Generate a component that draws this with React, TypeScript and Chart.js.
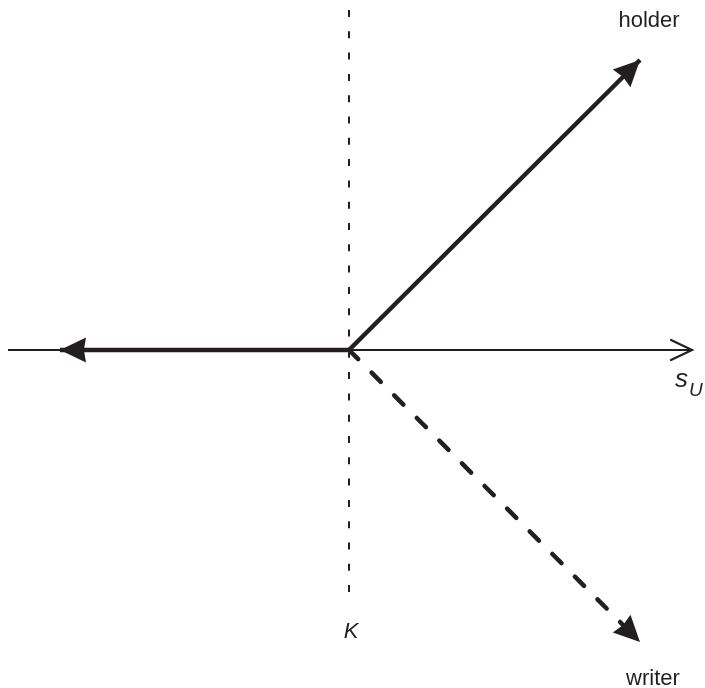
import React, { useEffect, useRef } from "react";
import { Chart, registerables } from "chart.js";

Chart.register(...registerables);

// Strike K is placed at x = 0; payoff on y (0 = zero payoff)
const axisPoints = [{ x: -341, y: 0 }, { x: 343, y: 0 }];
const flatPoints = [{ x: 0, y: 0 }, { x: -289, y: 0 }];
const holderPoints = [{ x: 0, y: 0 }, { x: 291, y: 290 }];
const writerPoints = [{ x: 0, y: 0 }, { x: 291, y: -292 }];
const strikePoints = [{ x: 0, y: 340 }, { x: 0, y: -248 }];

const INK = "#231f20";

type Lbl = { x: number; y: number; text: string; font: string; align: CanvasTextAlign };
const labels: Lbl[] = [
  { x: 300, y: 323, text: "holder", font: "22px 'Liberation Sans', Arial, sans-serif", align: "center" },
  { x: 304, y: -335, text: "writer", font: "22px 'Liberation Sans', Arial, sans-serif", align: "center" },
  { x: 2, y: -288, text: "K", font: "italic 22px 'Liberation Sans', Arial, sans-serif", align: "center" },
  { x: 326, y: -37, text: "s", font: "italic 26px 'Liberation Sans', Arial, sans-serif", align: "left" },
  { x: 340, y: -46, text: "U", font: "italic 19px 'Liberation Sans', Arial, sans-serif", align: "left" },
];

const arrowPlugin = {
  id: "arrows",
  afterDatasetsDraw(chart: any) {
    const ctx = chart.ctx as CanvasRenderingContext2D;
    chart.data.datasets.forEach((ds: any, i: number) => {
      if (!ds.arrow) return;
      const meta = chart.getDatasetMeta(i);
      const pts = meta.data;
      const a = pts[pts.length - 2];
      const b = pts[pts.length - 1];
      const dx = b.x - a.x;
      const dy = b.y - a.y;
      const len = Math.hypot(dx, dy);
      const ux = dx / len;
      const uy = dy / len;
      const px = -uy;
      const py = ux;
      ctx.save();
      ctx.fillStyle = INK;
      ctx.strokeStyle = INK;
      if (ds.arrow === "filled") {
        const L = 26;
        const W = 12.5;
        ctx.beginPath();
        ctx.moveTo(b.x, b.y);
        ctx.lineTo(b.x - ux * L + px * W, b.y - uy * L + py * W);
        ctx.lineTo(b.x - ux * L * 0.92, b.y - uy * L * 0.92);
        ctx.lineTo(b.x - ux * L - px * W, b.y - uy * L - py * W);
        ctx.closePath();
        ctx.fill();
      } else {
        const L = 21;
        const W = 10;
        ctx.lineWidth = 2.2;
        ctx.lineCap = "round";
        ctx.lineJoin = "miter";
        ctx.beginPath();
        ctx.moveTo(b.x - ux * L + px * W, b.y - uy * L + py * W);
        ctx.lineTo(b.x, b.y);
        ctx.lineTo(b.x - ux * L - px * W, b.y - uy * L - py * W);
        ctx.stroke();
      }
      ctx.restore();
    });
  },
  afterDraw(chart: any) {
    const ctx = chart.ctx as CanvasRenderingContext2D;
    const xs = chart.scales.x;
    const ys = chart.scales.y;
    ctx.save();
    ctx.fillStyle = INK;
    ctx.textBaseline = "alphabetic";
    labels.forEach((l) => {
      ctx.font = l.font;
      ctx.textAlign = l.align;
      ctx.fillText(l.text, xs.getPixelForValue(l.x), ys.getPixelForValue(l.y));
    });
    ctx.restore();
  },
};

export default function App() {
  const ref = useRef<HTMLCanvasElement | null>(null);
  useEffect(() => {
    document.body.style.margin = "0";
    const canvas = ref.current!;
    const chart = new Chart(canvas, {
      type: "scatter",
      data: {
        datasets: [
          {
            data: axisPoints,
            showLine: true,
            borderColor: INK,
            borderWidth: 2.2,
            pointRadius: 0,
            arrow: "open",
          } as any,
          {
            data: strikePoints,
            showLine: true,
            borderColor: INK,
            borderWidth: 2,
            borderDash: [7, 14.3],
            pointRadius: 0,
          } as any,
          {
            data: flatPoints,
            showLine: true,
            borderColor: INK,
            borderWidth: 4.5,
            pointRadius: 0,
            arrow: "filled",
          } as any,
          {
            data: holderPoints,
            showLine: true,
            borderColor: INK,
            borderWidth: 4.5,
            pointRadius: 0,
            arrow: "filled",
          } as any,
          {
            data: writerPoints,
            showLine: true,
            borderColor: INK,
            borderWidth: 4.5,
            borderDash: [13, 19],
            borderCapStyle: "round",
            pointRadius: 0,
            arrow: "filled",
          } as any,
        ],
      },
      options: {
        animation: false,
        responsive: false,
        devicePixelRatio: 1,
        layout: { padding: 0 },
        plugins: { legend: { display: false }, tooltip: { enabled: false } },
        scales: {
          x: { type: "linear", min: -349, max: 356, display: false },
          y: { type: "linear", min: -338, max: 350, display: false },
        },
      },
      plugins: [arrowPlugin],
    });
    return () => chart.destroy();
  }, []);
  return <canvas ref={ref} width={705} height={688} style={{ display: "block" }} />;
}
